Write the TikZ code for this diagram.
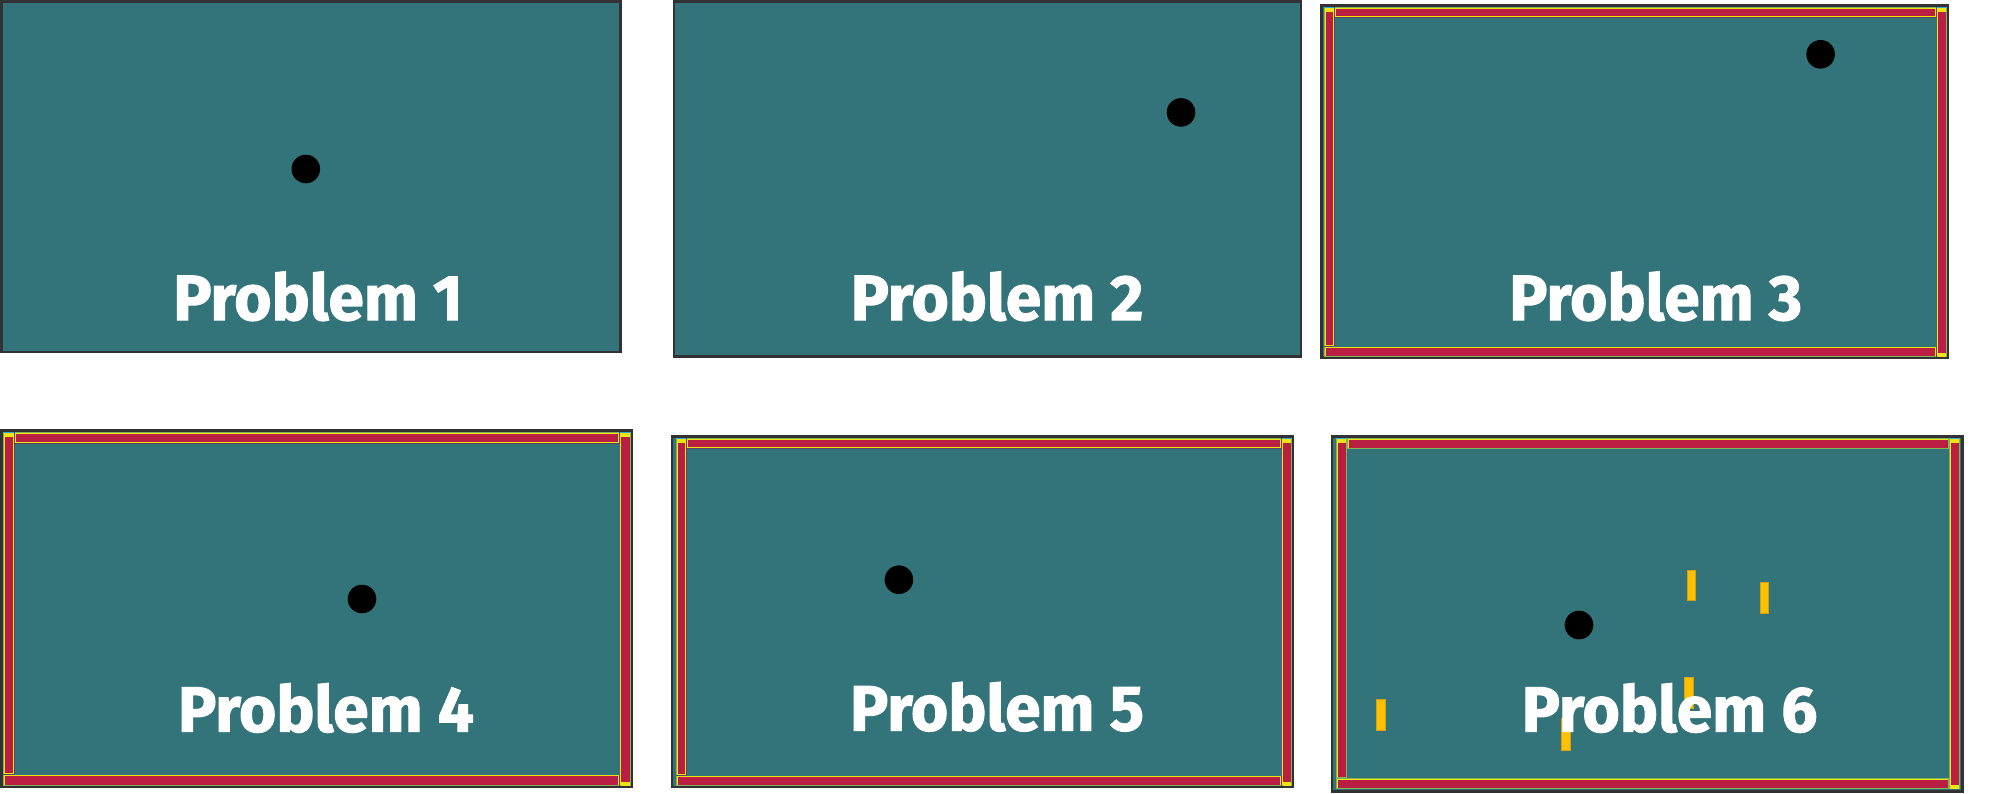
\documentclass[tikz,border=0pt]{standalone}
\usepackage{fontspec}
\newfontfamily\plabel{Fira Sans}[BoldFeatures={FakeBold=1.6}]
\definecolor{felt}{RGB}{51,116,122}
\definecolor{panelgray}{RGB}{50,50,52}
\definecolor{railred}{RGB}{186,30,66}
\definecolor{railyellow}{RGB}{240,228,20}
\definecolor{railgreen}{RGB}{130,180,90}
\definecolor{railedge}{RGB}{90,70,100}
\definecolor{capcyan}{RGB}{40,170,220}
\definecolor{gold}{RGB}{255,192,0}
\definecolor{golddark}{RGB}{214,160,20}
\tikzset{
  panelbox/.style={fill=felt, draw=panelgray, line width=2.5pt},
  ball/.style={circle, fill=black, minimum size=28.6pt, inner sep=0pt},
  probtext/.style={anchor=base, text=white, inner sep=0pt,
    font=\plabel\bfseries\fontsize{64}{64}\selectfont},
  goldbar/.style={fill=gold, draw=golddark, line width=0.6pt}
}
\newcommand\myrail[4]{%
  \fill[railedge] (#1,#2) rectangle (#3,#4);
  \fill[railgreen] ({#1+0.4},{#2+0.4}) rectangle ({#3-0.4},{#4-0.4});
  \fill[railyellow] ({#1+0.8},{#2+0.8}) rectangle ({#3-0.8},{#4-0.8});
  \fill[railred] ({#1+1.5},{#2+1.5}) rectangle ({#3-1.5},{#4-1.5});
}
\newcommand\railset[5]{%
  % left rail
  \myrail{#1}{#2}{#1+#5}{#4-#5}
  % top rail
  \myrail{#1+#5}{#2}{#3-#5}{#2+#5}
  % bottom rail
  \myrail{#1}{#4-#5}{#3-#5}{#4}
  % right rail
  \myrail{#3-#5}{#2}{#3}{#4}
  % corner caps
  \fill[railyellow] ({#1+1},{#2+1}) rectangle ({#1+#5-1},{#2+4.5});
  \fill[capcyan] ({#1+1},{#2}) rectangle ({#1+#5-1},{#2+1.2});
  \fill[railyellow] ({#3-#5+1},{#2+1}) rectangle ({#3-1},{#2+4.5});
  \fill[capcyan] ({#3-#5+1},{#2}) rectangle ({#3-1},{#2+1.2});
  \fill[railyellow] ({#3-#5+1},{#4-4}) rectangle ({#3-1},{#4-0.5});
}
\begin{document}
\begin{tikzpicture}[x=1pt,y=-1pt]
\useasboundingbox (0,0) rectangle (2002,793);
\fill[white] (0,0) rectangle (2002,793);

% ---------- Panel 1 ----------
\draw[panelbox] (1.25,1.25) rectangle (620.5,352);
\node[ball] (b1) at (305.8,169) {};
\node[probtext] (t1) at (318,320) {Problem 1};

% ---------- Panel 2 ----------
\draw[panelbox] (674,1.25) rectangle (1301,356.5);
\node[ball] (b2) at (1181,112.4) {};
\node[probtext] (t2) at (997,320) {Problem 2};

% ---------- Panel 3 ----------
\draw[panelbox] (1321.25,5.5) rectangle (1948,357.5);
\railset{1324}{7}{1947}{357}{10.5}
\node[ball] (b3) at (1820.6,54.3) {};
\node[probtext] (t3) at (1655.6,320) {Problem 3};

% ---------- Panel 4 ----------
\draw[panelbox] (1.25,430.5) rectangle (632,786.5);
\railset{3}{432}{631}{786}{11.5}
\node[ball] (b4) at (362,599) {};
\node[probtext] (t4) at (326,731.7) {Problem 4};

% ---------- Panel 5 ----------
\draw[panelbox] (672,436.5) rectangle (1293,787);
\railset{676}{438}{1292}{786}{10.5}
\node[ball] (b5) at (898.9,579.7) {};
\node[probtext] (t5) at (997,730.5) {Problem 5};

% ---------- Panel 6 ----------
\draw[panelbox] (1332,436.5) rectangle (1962.5,791.5);
\railset{1336}{438}{1960}{789}{11}
\node[ball] (b6) at (1579,625) {};
\draw[goldbar] (1687.4,570) rectangle (1695.2,600.7);
\draw[goldbar] (1760,582.7) rectangle (1768,613.3);
\draw[goldbar] (1684.3,677.7) rectangle (1693,708);
\draw[goldbar] (1376.5,699.3) rectangle (1385.2,730.7);
\draw[goldbar] (1561,718.3) rectangle (1570,750);
\node[probtext] (t6) at (1669.5,731.7) {Problem 6};
\end{tikzpicture}
\end{document}
